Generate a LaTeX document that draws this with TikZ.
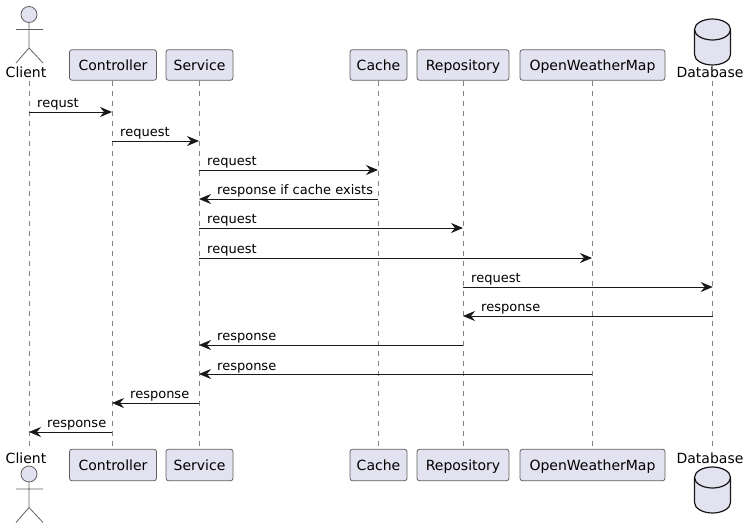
\documentclass[tikz,border=0pt]{standalone}
\usepackage{fontspec}
\setmainfont{DejaVu Sans}
\usetikzlibrary{arrows.meta}
\definecolor{ink}{HTML}{181818}
\definecolor{edge}{HTML}{606060}
\definecolor{dashc}{HTML}{808080}
\definecolor{part}{HTML}{E2E2F0}
\tikzset{
  x=1pt,y=-1pt,
  partbox/.style={draw=edge,fill=part,line width=.8pt,rounded corners=2.5pt,inner sep=0pt,minimum height=30.5pt,font=\fontsize{14}{16}\selectfont,text=black,anchor=center,text height=12pt,text depth=2pt},
  partboxlow/.style={partbox,minimum height=31.5pt},
  plain/.style={inner sep=0pt,font=\fontsize{14}{16}\selectfont,text=black,text height=12pt,text depth=2pt},
  lifeline/.style={draw=dashc,line width=.8pt,dash pattern=on 5pt off 5pt},
  msg/.style={draw=ink,line width=.9pt,-{Stealth[length=12pt,width=10pt,inset=4pt,fill=ink]}},
  lab/.style={inner sep=0pt,anchor=base west,font=\fontsize{13}{15}\selectfont,text=black},
  figure/.style={draw=edge,line width=.8pt,fill=part},
  figline/.style={draw=edge,line width=.8pt},
  can/.style={draw=ink,line width=1.2pt,fill=part}
}
\begin{document}
\begin{tikzpicture}
\useasboundingbox (0,0) rectangle (749,530);
% top participants
\node[partbox,minimum width=87pt] (controllerT) at (113,65) {Controller};
\node[partbox,minimum width=67pt] (serviceT) at (199.5,65) {Service};
\node[partbox,minimum width=57pt] (cacheT) at (378.5,65) {Cache};
\node[partbox,minimum width=92pt] (repoT) at (463,65) {Repository};
\node[partbox,minimum width=145pt] (owmT) at (592.5,65) {OpenWeatherMap};
% bottom participants
\node[partboxlow,minimum width=87pt] (controllerB) at (113,465) {Controller};
\node[partboxlow,minimum width=67pt] (serviceB) at (199.5,465) {Service};
\node[partboxlow,minimum width=57pt] (cacheB) at (378.5,465) {Cache};
\node[partboxlow,minimum width=92pt] (repoB) at (463,465) {Repository};
\node[partboxlow,minimum width=145pt] (owmB) at (592.5,465) {OpenWeatherMap};
% actor and database labels
\node[plain] (clientT) at (26,72) {Client};
\node[plain] (clientB) at (26,458) {Client};
\node[plain] (dbT) at (710,72) {Database};
\node[plain] (dbB) at (710,458) {Database};
% lifeline anchors
\coordinate (cl) at (29,81);  \coordinate (clb) at (29,449);
\coordinate (co) at (112,81); \coordinate (cob) at (112,449);
\coordinate (se) at (199,81); \coordinate (seb) at (199,449);
\coordinate (ca) at (378,81); \coordinate (cab) at (378,449);
\coordinate (re) at (463,81); \coordinate (reb) at (463,449);
\coordinate (ow) at (592,81); \coordinate (owb) at (592,449);
\coordinate (da) at (712.7,81); \coordinate (dab) at (712.7,449);
\foreach \a/\b in {cl/clb,co/cob,se/seb,ca/cab,re/reb,ow/owb,da/dab}
  \draw[lifeline] (\a) -- (\b);
% actors
\foreach \t in {0,1}{
  \pgfmathsetmacro{\yy}{\t==0 ? 0 : 459.5}
  \begin{scope}[yshift=-\yy pt]
    \draw[figure] (29,14.5) circle (8);
    \draw[figline] (29,22.5) -- (29,48) (16,29.5) -- (43,29.5) (16,63) -- (29,48) -- (43,63);
  \end{scope}
}
% databases
\foreach \t in {0,1}{
  \pgfmathsetmacro{\yy}{\t==0 ? 0 : 448}
  \begin{scope}[yshift=-\yy pt]
    \draw[can] (694.5,29.5) .. controls (694.5,23.7) and (702.6,19) .. (712.5,19)
      .. controls (722.4,19) and (730.5,23.7) .. (730.5,29.5)
      -- (730.5,54.5) .. controls (730.5,60.3) and (722.4,65) .. (712.5,65)
      .. controls (702.6,65) and (694.5,60.3) .. (694.5,54.5) -- cycle;
    \draw[can,fill=none] (694.5,29.5) .. controls (694.5,35.3) and (702.6,40) .. (712.5,40)
      .. controls (722.4,40) and (730.5,35.3) .. (730.5,29.5);
  \end{scope}
}
% rows
\foreach \n/\y in {1/112,2/141,3/170,4/199,5/228,6/258,7/287,8/316,9/345,10/374,11/403,12/432}
  \coordinate (r\n) at (0,\y);
% messages
\draw[msg] (cl |- r1) -- (co |- r1);
\draw[msg] (co |- r2) -- (se |- r2);
\draw[msg] (se |- r3) -- (ca |- r3);
\draw[msg] (ca |- r4) -- (se |- r4);
\draw[msg] (se |- r5) -- (re |- r5);
\draw[msg] (se |- r6) -- (ow |- r6);
\draw[msg] (re |- r7) -- (da |- r7);
\draw[msg] (da |- r8) -- (re |- r8);
\draw[msg] (re |- r9) -- (se |- r9);
\draw[msg] (ow |- r10) -- (se |- r10);
\draw[msg] (se |- r11) -- (co |- r11);
\draw[msg] (co |- r12) -- (cl |- r12);
% labels
\node[lab] (l1) at (37,107) {requst};
\node[lab] (l2) at (120,136) {request};
\node[lab] (l3) at (207,165) {request};
\node[lab] (l4) at (217,194) {response if cache exists};
\node[lab] (l5) at (207,223) {request};
\node[lab] (l6) at (207,253) {request};
\node[lab] (l7) at (471,282) {request};
\node[lab] (l8) at (481,311) {response};
\node[lab] (l9) at (217,340) {response};
\node[lab] (l10) at (217,370) {response};
\node[lab] (l11) at (130,398) {response};
\node[lab] (l12) at (47,427) {response};
\end{tikzpicture}
\end{document}
